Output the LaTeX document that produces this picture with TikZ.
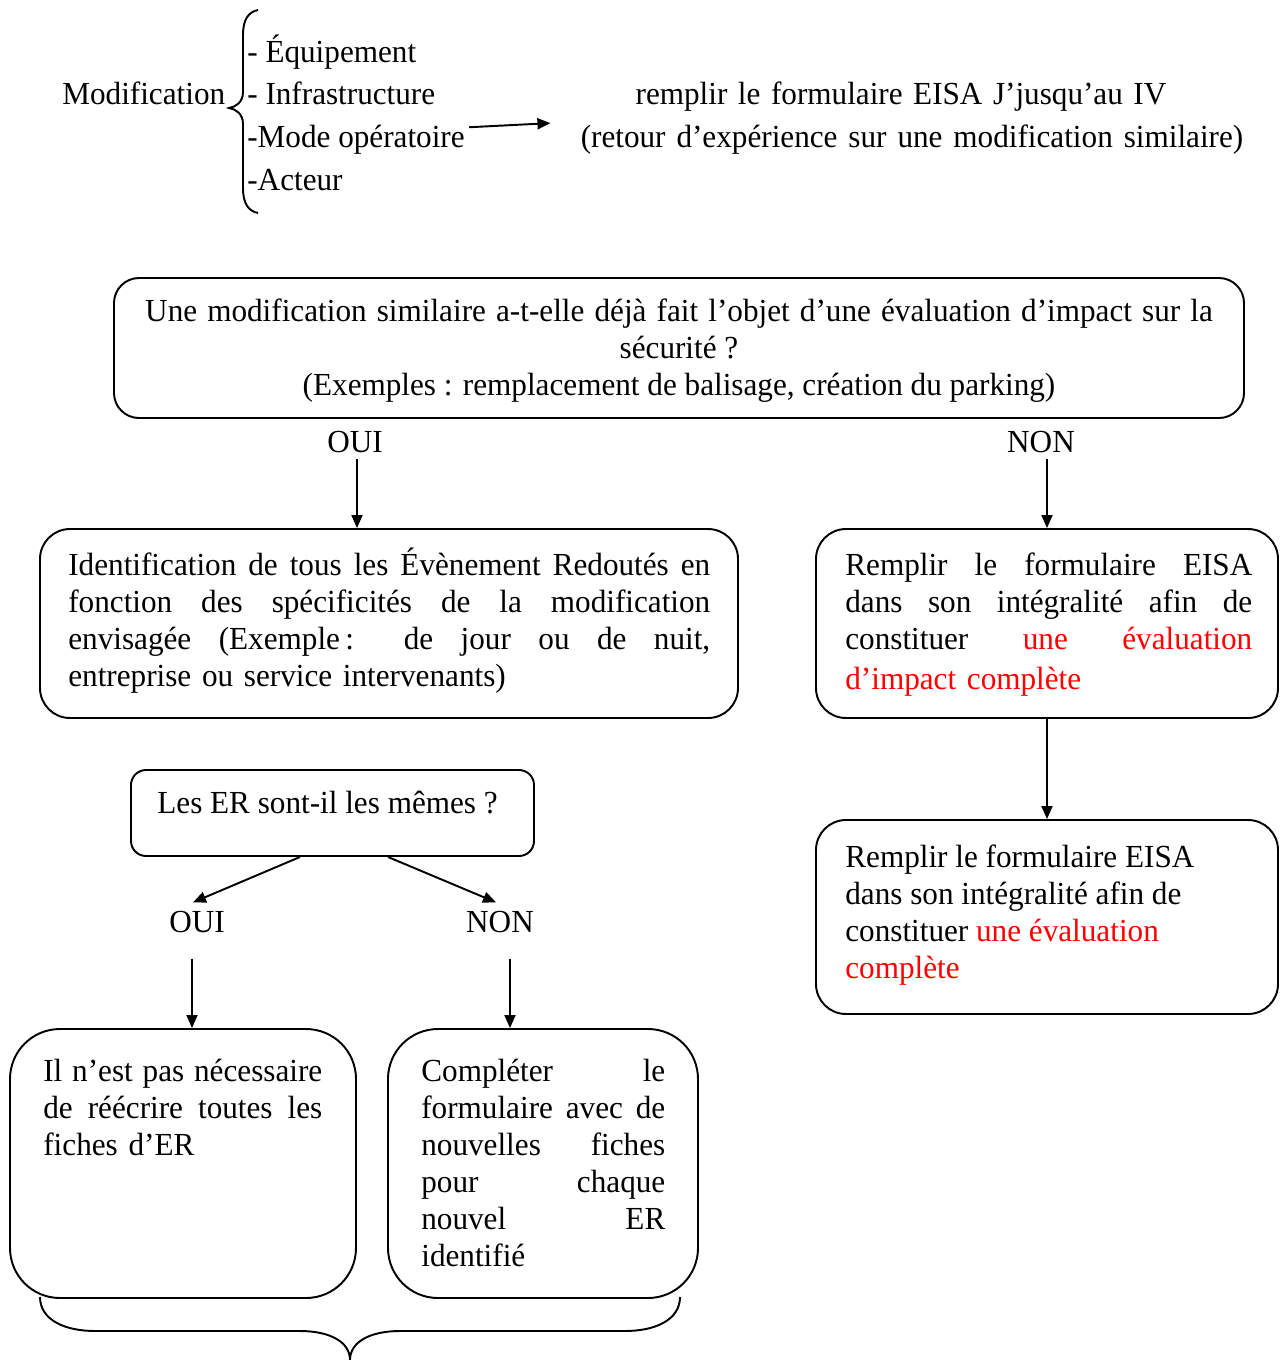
\documentclass[tikz,border=0pt]{standalone}
\usepackage{fontspec}
\setmainfont[FakeStretch=0.97]{Liberation Serif}
\usetikzlibrary{arrows.meta,calc}
\newcommand\tstrut{\rule{0pt}{20pt}}
% one justified line of a given width (stretchable interword spaces)
\newcommand\jl[2]{\makebox[#1][s]{\spaceskip=0pt\xspaceskip=0pt #2}}
% slightly wider interword spacing
\newcommand\widesp[1]{\spaceskip=#1\fontdimen2\font plus 1pt\relax}
\begin{document}
\begin{tikzpicture}[x=0.02cm,y=-0.02cm,
  every node/.style={font=\fontsize{18.3}{21.06}\selectfont, inner sep=0pt},
  box/.style={draw, line width=1.1pt},
  lbl/.style={anchor=base},
  para/.style={anchor=north west, align=left},
  arr/.style={-{Triangle[length=2.6mm,width=2.2mm]}, line width=1.1pt},
  brace/.style={line width=1.1pt},
]
\useasboundingbox (0,0) rectangle (1280,1360);

% --- heading: kinds of modification
\node[anchor=base west] (modif) at (62,104) {Modification};
\node[anchor=base west] (l1) at (247,62) {- Équipement};
\node[anchor=base west] (l2) at (247,104) {- Infrastructure};
\node[anchor=base west] (l3) at (247,147) {-Mode opératoire};
\node[anchor=base west] (l4) at (247,190) {-Acteur};
\draw[brace] (258,10) .. controls (248,12) and (243,20) .. (243,35) -- (243,92)
  .. controls (243,102) and (236,107) .. (229,108)
  .. controls (236,109) and (243,114) .. (243,124) -- (243,188)
  .. controls (243,203) and (248,211) .. (258,213);
\node[lbl] (rem) at (901,104) {\widesp{1.35}remplir le formulaire EISA J’jusqu’au IV};
\node[lbl] (ret) at (912,147) {\widesp{1.4}(retour d’expérience sur une modification similaire)};
\coordinate (a0) at ($(l3.east)+(4,-12)$);
\coordinate (a1) at ($(ret.west)+(-30,-16)$);
\draw[arr] (a0) -- (a1);

% --- first question
\node[box, rounded corners=0.5cm, minimum width=1130*0.02cm, minimum height=140*0.02cm] (b1) at (679,348) {};
\node[anchor=north, align=center] (t1) at (679,285.7) {\widesp{1.3}\tstrut Une modification similaire a-t-elle déjà fait l’objet d’une évaluation d’impact sur la\\ sécurité ?\\ (Exemples : remplacement de balisage, création du parking)};
\node[lbl] (oui1) at (355,452) {OUI};
\node[lbl] (non1) at (1041,452) {NON};

% --- left branch
\node[box, rounded corners=0.6cm, minimum width=698*0.02cm, minimum height=189*0.02cm] (b2) at (389,623.5) {};
\node[para, text width=12.84cm] (t2) at (68,539.7) {\tstrut\jl{12.84cm}{Identification de tous les Évènement Redoutés en}\\
\jl{12.84cm}{fonction des spécificités de la modification}\\
\jl{12.84cm}{envisagée (Exemple\,: de jour ou de nuit,}\\
entreprise ou service intervenants)};

% --- right branch
\node[box, rounded corners=0.6cm, minimum width=462*0.02cm, minimum height=189*0.02cm] (b3) at (1047,623.5) {};
\node[para, text width=8.14cm] (t3) at (845,539.7) {\tstrut\jl{8.14cm}{Remplir le formulaire EISA}\\
\jl{8.14cm}{dans son intégralité afin de}\\
\jl{8.14cm}{constituer \textcolor{red}{une évaluation}}\\[2pt]
\textcolor{red}{d’impact complète}};

\node[box, rounded corners=0.6cm, minimum width=462*0.02cm, minimum height=194*0.02cm] (b4) at (1047,917) {};
\node[para] (t4) at (845,831.7) {\tstrut Remplir le formulaire EISA\\
dans son intégralité afin de\\
constituer \textcolor{red}{une évaluation}\\
\textcolor{red}{complète}};

% --- second question
\node[box, rounded corners=0.3cm, minimum width=403*0.02cm, minimum height=86*0.02cm] (b5) at (332.5,813) {};
\node[anchor=base west] (t5) at (157,813) {Les ER sont-il les mêmes ?};
\node[lbl] (oui2) at (197,932) {OUI};
\node[lbl] (non2) at (500,932) {NON};

\node[box, rounded corners=1cm, minimum width=346*0.02cm, minimum height=269*0.02cm] (b6) at (183,1163.5) {};
\node[para, text width=5.58cm] (t6) at (43,1045.7) {\tstrut\jl{5.58cm}{Il n’est pas nécessaire}\\
\jl{5.58cm}{de réécrire toutes les}\\
fiches d’ER};

\node[box, rounded corners=1cm, minimum width=310*0.02cm, minimum height=269*0.02cm] (b7) at (543,1163.5) {};
\node[para, text width=4.88cm] (t7) at (421,1045.7) {\tstrut\jl{4.88cm}{Compléter le}\\
\jl{4.88cm}{formulaire avec de}\\
\jl{4.88cm}{nouvelles fiches}\\
\jl{4.88cm}{pour chaque}\\
\jl{4.88cm}{nouvel ER}\\
identifié};

% --- connectors
\coordinate (o1) at ($(oui1.south)+(2,6)$);
\draw[arr] (o1) -- (o1 |- b2.north);
\coordinate (n1) at ($(non1.south)+(6,6)$);
\draw[arr] (n1) -- (n1 |- b3.north);
\draw[arr] (b3.south) -- (b4.north);
\draw[arr] ($(b5.south)+(-32.5,0)$) -- ($(oui2.north)+(-4,-8)$);
\draw[arr] ($(b5.south)+(55.5,0)$) -- ($(non2.north)+(-4,-8)$);
\coordinate (o2) at ($(oui2.south)+(-5,26)$);
\draw[arr] (o2) -- (o2 |- b6.north);
\coordinate (n2) at ($(non2.south)+(10,26)$);
\draw[arr] (n2) -- (n2 |- b7.north);

% --- closing brace under both outcomes
\draw[brace] (40,1297) .. controls (40,1320) and (65,1331) .. (95,1331) -- (300,1331)
  .. controls (330,1331) and (350,1342) .. (350,1360)
  .. controls (350,1342) and (370,1331) .. (400,1331) -- (625,1331)
  .. controls (655,1331) and (680,1320) .. (680,1297);
\end{tikzpicture}
\end{document}
